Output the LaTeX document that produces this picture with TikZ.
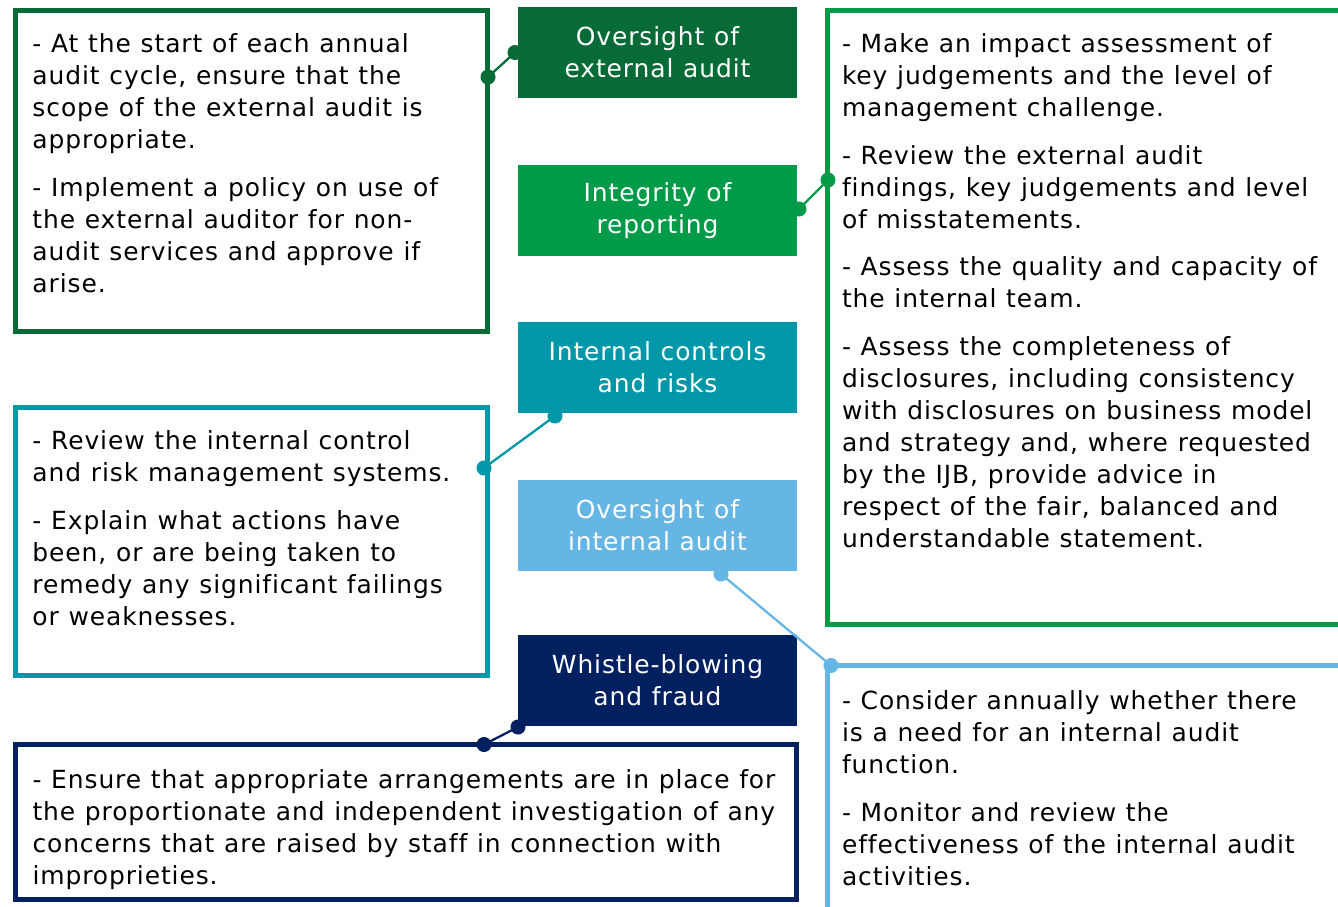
\documentclass[tikz,border=0pt]{standalone}
\usepackage{fontspec}
\setmainfont{DejaVu Sans}[LetterSpace=3.6, WordSpace=1.1, Ligatures=NoCommon]
\usepackage{tikz}
\usetikzlibrary{positioning, arrows.meta}

\definecolor{extgreen}{HTML}{066B37}
\definecolor{repgreen}{HTML}{009B48}
\definecolor{ctrlteal}{HTML}{0098A8}
\definecolor{iablue}{HTML}{65B6E4}
\definecolor{fraudnavy}{HTML}{002060}

\tikzset{
  topic/.style={
    rectangle, fill=#1,
    minimum width=5.58cm, minimum height=1.82cm,
    inner sep=0pt, outer sep=0pt,
    text=white, align=center,
    font=\fontsize{14.2}{18.2}\selectfont
  },
  panel/.style={
    draw=#1, rectangle, line width=0.1cm,
    inner sep=0pt, outer sep=0pt, anchor=north west
  },
  bodytxt/.style={
    inner sep=0pt, outer sep=0pt, align=left,
    font=\fontsize{14.2}{18.2}\selectfont
  },
  link/.style={
    {Circle[length=0.3cm]}-{Circle[length=0.3cm]},
    draw=#1, line width=1.3pt,
    shorten <=-0.15cm, shorten >=-0.15cm
  },
}

\begin{document}
\begin{tikzpicture}
  \useasboundingbox (0,0) rectangle (26.76,-18.12);
  \clip (0,0) rectangle (26.76,-18.12);

  % outlined boxes
  \node[panel=extgreen,  minimum width=9.43cm,  minimum height=6.42cm] (extbox)   at (0.31,-0.21)  {};
  \node[panel=ctrlteal,  minimum width=9.43cm,  minimum height=5.35cm] (ctrlbox)  at (0.31,-8.15)  {};
  \node[panel=fraudnavy, minimum width=15.62cm, minimum height=3.10cm] (fraudbox) at (0.30,-14.89) {};
  \node[panel=repgreen,  minimum width=10.4cm,  minimum height=12.28cm] (repbox)  at (16.54,-0.21) {};
  \node[panel=iablue,    minimum width=10.4cm,  minimum height=5.2cm]  (iabox)    at (16.54,-13.31) {};

  % topic labels down the middle
  \node[topic=extgreen] (extlbl) at (13.15,-1.05) {Oversight of\\external audit};
  \node[topic=repgreen,  below=1.34cm of extlbl]  (replbl)   {Integrity of\\reporting};
  \node[topic=ctrlteal,  below=1.32cm of replbl]  (ctrllbl)  {Internal controls\\and risks};
  \node[topic=iablue,    below=1.34cm of ctrllbl] (ialbl)    {Oversight of\\internal audit};
  \node[topic=fraudnavy, below=1.28cm of ialbl]   (fraudlbl) {Whistle-blowing\\and fraud};

  % box texts
  \node[bodytxt, below right=0.39cm and 0.34cm of extbox.north west] (exttxt)
    {\strut- At the start of each annual\\
     audit cycle, ensure that the\\
     scope of the external audit is\\
     appropriate.\\[9pt]
     - Implement a policy on use of\\
     the external auditor for non-\\
     audit services and approve if\\
     arise.};
  \node[bodytxt, below right=0.39cm and 0.34cm of ctrlbox.north west] (ctrltxt)
    {\strut- Review the internal control\\
     and risk management systems.\\[9pt]
     - Explain what actions have\\
     been, or are being taken to\\
     remedy any significant failings\\
     or weaknesses.};
  \node[bodytxt, below right=0.43cm and 0.35cm of fraudbox.north west] (fraudtxt)
    {\strut- Ensure that appropriate arrangements are in place for\\
     the proportionate and independent investigation of any\\
     concerns that are raised by staff in connection with\\
     improprieties.};
  \node[bodytxt, below right=0.39cm and 0.30cm of repbox.north west] (reptxt)
    {\strut- Make an impact assessment of\\
     key judgements and the level of\\
     management challenge.\\[9pt]
     - Review the external audit\\
     findings, key judgements and level\\
     of misstatements.\\[9pt]
     - Assess the quality and capacity of\\
     the internal team.\\[9pt]
     - Assess the completeness of\\
     disclosures, including consistency\\
     with disclosures on business model\\
     and strategy and, where requested\\
     by the IJB, provide advice in\\
     respect of the fair, balanced and\\
     understandable statement.};
  \node[bodytxt, below right=0.43cm and 0.30cm of iabox.north west] (iatxt)
    {\strut- Consider annually whether there\\
     is a need for an internal audit\\
     function.\\[9pt]
     - Monitor and review the\\
     effectiveness of the internal audit\\
     activities.};

  % link end points
  \coordinate (ext-a)   at ([xshift=-0.06cm]extlbl.west);
  \coordinate (ext-b)   at ([xshift=0.02cm, yshift=-1.33cm]extbox.north east);
  \coordinate (rep-a)   at ([xshift=0.04cm, yshift=0.03cm]replbl.east);
  \coordinate (rep-b)   at ([xshift=0.02cm, yshift=-3.39cm]repbox.north west);
  \coordinate (ctrl-a)  at ([xshift=0.74cm, yshift=-0.06cm]ctrllbl.south west);
  \coordinate (ctrl-b)  at ([xshift=-0.06cm, yshift=-1.21cm]ctrlbox.north east);
  \coordinate (ia-a)    at ([xshift=1.27cm, yshift=-0.06cm]ialbl.south);
  \coordinate (ia-b)    at ([xshift=0.08cm]iabox.north west);
  \coordinate (fraud-a) at ([yshift=-0.02cm]fraudlbl.south west);
  \coordinate (fraud-b) at ([xshift=1.57cm]fraudbox.north);

  \draw[link=extgreen]  (ext-a)   -- (ext-b);
  \draw[link=repgreen]  (rep-a)   -- (rep-b);
  \draw[link=ctrlteal]  (ctrl-a)  -- (ctrl-b);
  \draw[link=iablue]    (ia-a)    -- (ia-b);
  \draw[link=fraudnavy] (fraud-a) -- (fraud-b);
\end{tikzpicture}
\end{document}
